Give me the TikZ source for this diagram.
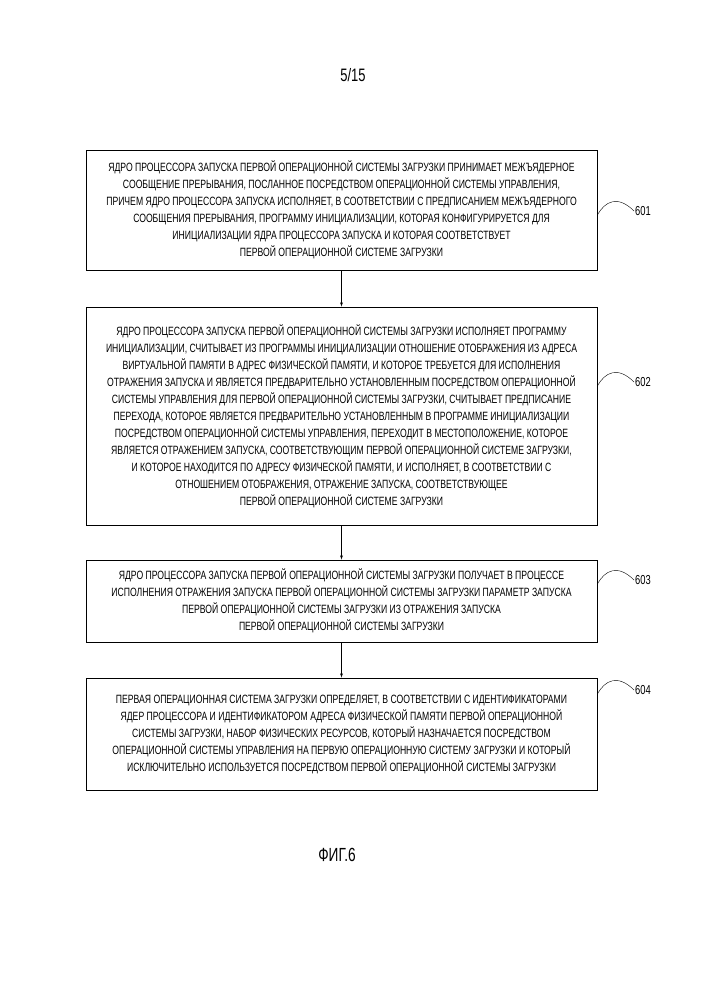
\documentclass[tikz,border=0pt]{standalone}
\usepackage{fontspec}
\setmainfont[FakeStretch=0.72]{Liberation Sans}
\begin{document}
\begin{tikzpicture}[x=1pt,y=-1pt]
\tikzset{stepbox/.style={draw,line width=0.9pt,minimum width=511pt,align=center,font=\fontsize{12}{17}\selectfont,inner sep=0pt},
  lbl/.style={font=\fontsize{13}{15}\selectfont,anchor=west,inner sep=1pt}}
\useasboundingbox (0,0) rectangle (707,1000);
\node[font=\fontsize{18}{20}\selectfont] (page) at (353,75) {5/15};
\node[stepbox,minimum height=120pt] (b1) at (341.5,210) {ЯДРО ПРОЦЕССОРА ЗАПУСКА ПЕРВОЙ ОПЕРАЦИОННОЙ СИСТЕМЫ ЗАГРУЗКИ ПРИНИМАЕТ МЕЖЪЯДЕРНОЕ\\
СООБЩЕНИЕ ПРЕРЫВАНИЯ, ПОСЛАННОЕ ПОСРЕДСТВОМ ОПЕРАЦИОННОЙ СИСТЕМЫ УПРАВЛЕНИЯ,\\
ПРИЧЕМ ЯДРО ПРОЦЕССОРА ЗАПУСКА ИСПОЛНЯЕТ, В СООТВЕТСТВИИ С ПРЕДПИСАНИЕМ МЕЖЪЯДЕРНОГО\\
СООБЩЕНИЯ ПРЕРЫВАНИЯ, ПРОГРАММУ ИНИЦИАЛИЗАЦИИ, КОТОРАЯ КОНФИГУРИРУЕТСЯ ДЛЯ\\
ИНИЦИАЛИЗАЦИИ ЯДРА ПРОЦЕССОРА ЗАПУСКА И КОТОРАЯ СООТВЕТСТВУЕТ\\
ПЕРВОЙ ОПЕРАЦИОННОЙ СИСТЕМЕ ЗАГРУЗКИ};
\node[stepbox,minimum height=218pt] (b2) at (341.5,416) {ЯДРО ПРОЦЕССОРА ЗАПУСКА ПЕРВОЙ ОПЕРАЦИОННОЙ СИСТЕМЫ ЗАГРУЗКИ ИСПОЛНЯЕТ ПРОГРАММУ\\
ИНИЦИАЛИЗАЦИИ, СЧИТЫВАЕТ ИЗ ПРОГРАММЫ ИНИЦИАЛИЗАЦИИ ОТНОШЕНИЕ ОТОБРАЖЕНИЯ ИЗ АДРЕСА\\
ВИРТУАЛЬНОЙ ПАМЯТИ В АДРЕС ФИЗИЧЕСКОЙ ПАМЯТИ, И КОТОРОЕ ТРЕБУЕТСЯ ДЛЯ ИСПОЛНЕНИЯ\\
ОТРАЖЕНИЯ ЗАПУСКА И ЯВЛЯЕТСЯ ПРЕДВАРИТЕЛЬНО УСТАНОВЛЕННЫМ ПОСРЕДСТВОМ ОПЕРАЦИОННОЙ\\
СИСТЕМЫ УПРАВЛЕНИЯ ДЛЯ ПЕРВОЙ ОПЕРАЦИОННОЙ СИСТЕМЫ ЗАГРУЗКИ, СЧИТЫВАЕТ ПРЕДПИСАНИЕ\\
ПЕРЕХОДА, КОТОРОЕ ЯВЛЯЕТСЯ ПРЕДВАРИТЕЛЬНО УСТАНОВЛЕННЫМ В ПРОГРАММЕ ИНИЦИАЛИЗАЦИИ\\
ПОСРЕДСТВОМ ОПЕРАЦИОННОЙ СИСТЕМЫ УПРАВЛЕНИЯ, ПЕРЕХОДИТ В МЕСТОПОЛОЖЕНИЕ, КОТОРОЕ\\
ЯВЛЯЕТСЯ ОТРАЖЕНИЕМ ЗАПУСКА, СООТВЕТСТВУЮЩИМ ПЕРВОЙ ОПЕРАЦИОННОЙ СИСТЕМЕ ЗАГРУЗКИ,\\
И КОТОРОЕ НАХОДИТСЯ ПО АДРЕСУ ФИЗИЧЕСКОЙ ПАМЯТИ, И ИСПОЛНЯЕТ, В СООТВЕТСТВИИ С\\
ОТНОШЕНИЕМ ОТОБРАЖЕНИЯ, ОТРАЖЕНИЕ ЗАПУСКА, СООТВЕТСТВУЮЩЕЕ\\
ПЕРВОЙ ОПЕРАЦИОННОЙ СИСТЕМЕ ЗАГРУЗКИ};
\node[stepbox,minimum height=82pt] (b3) at (341.5,601) {ЯДРО ПРОЦЕССОРА ЗАПУСКА ПЕРВОЙ ОПЕРАЦИОННОЙ СИСТЕМЫ ЗАГРУЗКИ ПОЛУЧАЕТ В ПРОЦЕССЕ\\
ИСПОЛНЕНИЯ ОТРАЖЕНИЯ ЗАПУСКА ПЕРВОЙ ОПЕРАЦИОННОЙ СИСТЕМЫ ЗАГРУЗКИ ПАРАМЕТР ЗАПУСКА\\
ПЕРВОЙ ОПЕРАЦИОННОЙ СИСТЕМЫ ЗАГРУЗКИ ИЗ ОТРАЖЕНИЯ ЗАПУСКА\\
ПЕРВОЙ ОПЕРАЦИОННОЙ СИСТЕМЫ ЗАГРУЗКИ};
\node[stepbox,minimum height=112pt] (b4) at (341.5,734) {ПЕРВАЯ ОПЕРАЦИОННАЯ СИСТЕМА ЗАГРУЗКИ ОПРЕДЕЛЯЕТ, В СООТВЕТСТВИИ С ИДЕНТИФИКАТОРАМИ\\
ЯДЕР ПРОЦЕССОРА И ИДЕНТИФИКАТОРОМ АДРЕСА ФИЗИЧЕСКОЙ ПАМЯТИ ПЕРВОЙ ОПЕРАЦИОННОЙ\\
СИСТЕМЫ ЗАГРУЗКИ, НАБОР ФИЗИЧЕСКИХ РЕСУРСОВ, КОТОРЫЙ НАЗНАЧАЕТСЯ ПОСРЕДСТВОМ\\
ОПЕРАЦИОННОЙ СИСТЕМЫ УПРАВЛЕНИЯ НА ПЕРВУЮ ОПЕРАЦИОННУЮ СИСТЕМУ ЗАГРУЗКИ И КОТОРЫЙ\\
ИСКЛЮЧИТЕЛЬНО ИСПОЛЬЗУЕТСЯ ПОСРЕДСТВОМ ПЕРВОЙ ОПЕРАЦИОННОЙ СИСТЕМЫ ЗАГРУЗКИ};
\node[font=\fontsize{19}{21}\selectfont] (fig) at (337,855) {ФИГ.6};
% arrows between steps
\draw[->,>=latex] (b1) -- (b2);
\draw[->,>=latex] (b2) -- (b3);
\draw[->,>=latex] (b3) -- (b4);
% step labels
\foreach \b/\n/\y in {b1/601/211,b2/602/382,b3/603/580,b4/604/690} {
  \node[lbl] (l\n) at (634,\y) {\n};
  \draw (\b.east |- 0,\y+4) .. controls (605,\y-10) and (618,\y-16) .. (l\n.west);
}
\end{tikzpicture}
\end{document}
